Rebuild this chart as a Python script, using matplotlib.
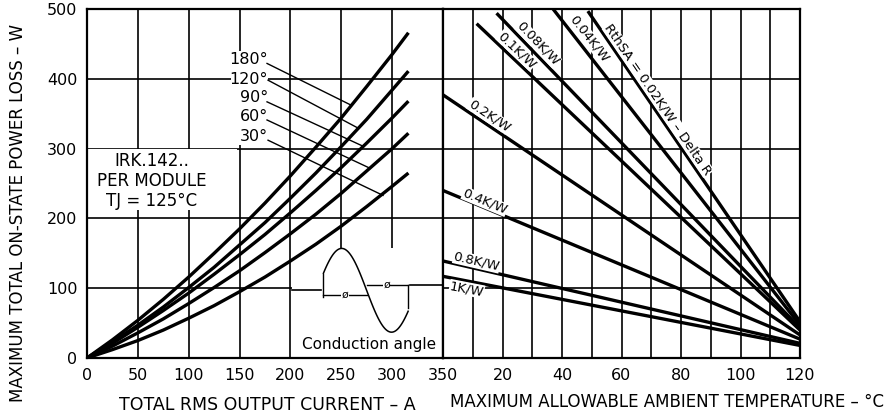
import numpy as np
import matplotlib.pyplot as plt
from matplotlib.patches import Rectangle

# left panel: on-state power loss vs total rms current, per conduction angle
current = [0, 25, 50, 75, 100, 125, 150, 175, 200, 225, 250, 275, 300, 316]
loss_180 = [0, 26, 54, 84, 116, 150, 185, 222, 261, 302, 344, 389, 435, 466]
loss_120 = [0, 23, 47, 73, 101, 130, 162, 194, 229, 265, 303, 342, 384, 411]
loss_90 = [0, 21, 44, 68, 93, 120, 148, 177, 208, 240, 273, 308, 344, 368]
loss_60 = [0, 17, 36, 56, 78, 101, 125, 151, 178, 206, 236, 268, 300, 322]
loss_30 = [0, 12, 25, 40, 57, 75, 95, 116, 139, 163, 189, 217, 246, 265]
losses = [loss_180, loss_120, loss_90, loss_60, loss_30]
angle_labels = ["180°", "120°", "90°", "60°", "30°"]
angle_label_y = [428, 399, 373, 346, 317]
leader_x0 = [177, 178, 177, 177, 178]
leader_y0 = [422, 398, 367, 341, 312]
leader_x1 = [260, 267, 272, 278, 291]
leader_y1 = [362, 329, 303, 272, 233]

# right panel: heatsink thermal resistance lines vs ambient temperature
rth_labels = ["RthSA = 0.02K/W – Delta R", "0.04K/W", "0.08K/W", "0.1K/W",
              "0.2K/W", "0.4K/W", "0.8K/W", "1K/W"]
t_start = [48.7, 37, 18, 11.3, 0, 0, 0, 0]
p_start = [497, 500, 494, 479, 377, 240, 139, 117]
t_end = [120, 120, 120, 120, 120, 120, 120, 120]
p_end = [52, 47, 43, 40, 33, 27, 21, 18]
lab_t = [72.3, 49.1, 31.9, 24.8, 15.5, 14.1, 11.3, 8.0]
lab_p = [370, 458, 450, 441, 347, 224, 138, 99]

fig = plt.figure(figsize=(8.94, 4.16), dpi=100)
ax1 = fig.add_axes([87 / 894, 58 / 416, 356 / 894, 349 / 416])
ax2 = fig.add_axes([443 / 894, 58 / 416, 357 / 894, 349 / 416])

for ax in (ax1, ax2):
    ax.set_axisbelow(True)
    ax.grid(True, which="both", color="black", lw=1.2)
    ax.tick_params(which="both", length=0, pad=7, labelsize=11.5)
    for s in ax.spines.values():
        s.set_linewidth(1.6)
    ax.set_ylim(0, 500)

# ---- left
ax1.set_xlim(0, 350)
ax1.set_xticks(range(0, 351, 50))
ax1.set_yticks(range(0, 501, 100))
for y in losses:
    ax1.plot(current, y, color="black", lw=2.4, zorder=2, solid_capstyle="butt")

# white boxes behind labels
ax1.add_patch(Rectangle((1, 212), 146, 87, fc="white", ec="none", zorder=1))
ax1.add_patch(Rectangle((142, 305), 36, 135, fc="white", ec="none", zorder=1))
ax1.add_patch(Rectangle((202, 1), 147, 157, fc="white", ec="none", zorder=1))

ax1.text(63.5, 254, "IRK.142..\nPER MODULE\nTJ = 125°C", ha="center", va="center",
         fontsize=12, linespacing=1.15, zorder=3)
for lab, ly, x0, y0, x1, y1 in zip(angle_labels, angle_label_y, leader_x0, leader_y0,
                                   leader_x1, leader_y1):
    ax1.text(178, ly, lab, ha="right", va="center", fontsize=11.5, zorder=3)
    ax1.plot([x0, x1], [y0, y1], color="black", lw=1.0, zorder=2)

# conduction angle sketch
ph = np.radians(np.linspace(24, 330, 120))
sx = 225.9 + np.degrees(ph) / 180 * 49
sy = 97 + 60 * np.sin(ph)
ax1.plot(sx, sy, color="black", lw=1.1, zorder=2)
ax1.plot([202, 230], [98, 98], color="black", lw=1.2, zorder=2)
ax1.plot([318, 350], [104, 104], color="black", lw=1.2, zorder=2)
ax1.plot([232.4, 232.4], [121, 88], color="black", lw=1.0, zorder=2)
ax1.plot([232.4, 274.9], [90, 90], color="black", lw=1.0, zorder=2)
ax1.plot([274.9, 315.7], [104.6, 104.6], color="black", lw=1.0, zorder=2)
ax1.plot([315.7, 315.7], [104.6, 72], color="black", lw=1.0, zorder=2)
ax1.text(253.6, 91, "ø", ha="center", va="center", fontsize=8,
         bbox=dict(fc="white", ec="none", pad=0.3), zorder=3)
ax1.text(294.6, 105, "ø", ha="center", va="center", fontsize=8,
         bbox=dict(fc="white", ec="none", pad=0.3), zorder=3)
ax1.text(277, 19, "Conduction angle", ha="center", va="center", fontsize=11, zorder=3)

# ---- right
ax2.set_xlim(0, 120)
ax2.set_xticks(range(20, 121, 20))
ax2.set_xticks(range(10, 120, 20), minor=True)
ax2.set_yticks(range(0, 501, 100))
ax2.tick_params(labelleft=False)
for ts, ps, te, pe, lab, lt, lp in zip(t_start, p_start, t_end, p_end, rth_labels,
                                      lab_t, lab_p):
    ax2.plot([ts, te], [ps, pe], color="black", lw=2.4, zorder=2, solid_capstyle="butt")
    ang = np.degrees(np.arctan2(pe - ps, te - ts))
    ax2.text(lt, lp, lab, ha="center", va="center", fontsize=9.5, rotation=ang,
             rotation_mode="anchor", transform_rotates_text=True,
             bbox=dict(fc="white", ec="none", pad=0.2), zorder=3)

fig.text(267.5 / 894, 1 - 404.5 / 416, "TOTAL RMS OUTPUT CURRENT – A",
         ha="center", va="center", fontsize=12.5)
fig.text(667 / 894, 1 - 401.7 / 416, "MAXIMUM ALLOWABLE AMBIENT TEMPERATURE – °C",
         ha="center", va="center", fontsize=12)
fig.text(18 / 894, 1 - 213 / 416, "MAXIMUM TOTAL ON-STATE POWER LOSS – W",
         ha="center", va="center", rotation=90, fontsize=12)

fig.savefig("out.png", dpi=100)
